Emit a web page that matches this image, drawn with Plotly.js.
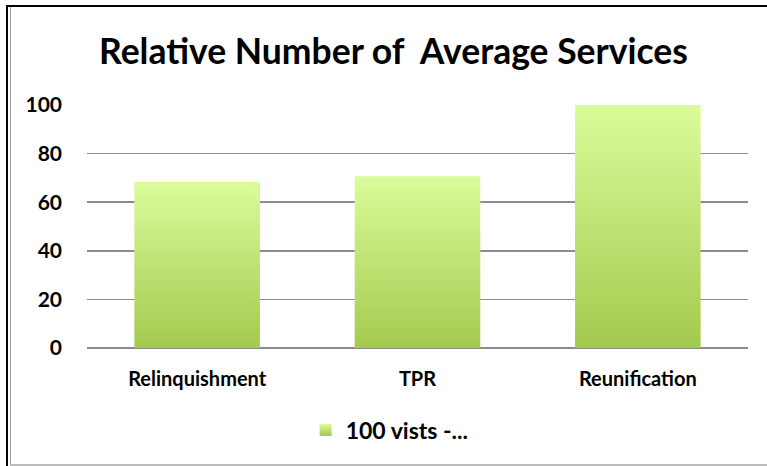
<!DOCTYPE html>
<html><head><meta charset="utf-8">
<script src="https://cdn.plot.ly/plotly-3.0.1.min.js"></script>
<style>
html,body{margin:0;padding:0;background:#fff;}
#wrap{position:relative;width:767px;height:466px;overflow:hidden;}
#chart{position:absolute;left:0;top:0;width:767px;height:466px;}
.b{position:absolute;}
</style></head>
<body><div id="wrap"><div id="chart"></div>
<div class="b" style="left:6px;top:5px;width:2px;height:461px;background:#000"></div>
<div class="b" style="left:6px;top:5px;width:761px;height:2px;background:#000"></div>
<div class="b" style="left:10px;top:7px;width:1px;height:459px;background:#999"></div>
<div class="b" style="left:10px;top:464px;width:757px;height:2px;background:#bbb"></div>
</div>
<script>
const categories = ["Relinquishment", "TPR", "Reunification"];
const values = [68.3, 70.7, 100];
const seriesName = "100 vists -...";
const yTicks = [0, 20, 40, 60, 80, 100];

const FONT = "Lato, 'Open Sans', sans-serif";
const trace = {
  type: "bar", x: categories, y: values, name: seriesName,
  marker: {color: "#c2e37a", line: {width: 0}},
  showlegend: true, hoverinfo: "none"
};
const layout = {
  width: 767, height: 466,
  margin: {l: 87, r: 19, t: 104.5, b: 118.3, pad: 0},
  paper_bgcolor: "rgba(0,0,0,0)", plot_bgcolor: "rgba(0,0,0,0)",
  bargap: 0.43,
  title: {text: "<b>Relative Number of  Average Services</b>", x: 0.513, xanchor: "center",
          y: 1 - 52/466, yanchor: "middle", yref: "container",
          font: {family: FONT, size: 35.5, color: "#000"}},
  xaxis: {type: "category", showgrid: false, zeroline: false, showline: false, ticks: "",
          tickfont: {family: FONT, size: 20, color: "#000", weight: "bold"}, ticklabelstandoff: 17},
  yaxis: {range: [0, 100], tickvals: yTicks, ticktext: yTicks.map(String), showgrid: true,
          gridcolor: "#8c8c8c", gridwidth: 1.6, zeroline: true, zerolinecolor: "#8c8c8c", zerolinewidth: 1.6,
          showline: false, ticks: "", ticklabelstandoff: 24,
          tickfont: {family: FONT, size: 21, color: "#000", weight: "bold"}},
  showlegend: true,
  legend: {orientation: "h", xref: "container", yref: "container", x: 0.508, xanchor: "center",
           y: 1 - 430/466, yanchor: "middle",
           font: {family: FONT, size: 23, color: "#000", weight: "bold"}}
};
Plotly.newPlot("chart", [trace], layout, {staticPlot: true, displayModeBar: false}).then(function(gd){
  const svg = gd.querySelector("svg.main-svg");
  const ns = "http://www.w3.org/2000/svg";
  let defs = svg.querySelector("defs");
  const g = document.createElementNS(ns, "linearGradient");
  g.setAttribute("id", "barGrad"); g.setAttribute("x1","0"); g.setAttribute("y1","0");
  g.setAttribute("x2","0"); g.setAttribute("y2","1");
  [["0","#dafc9a"],["1","#a3ca4e"]].forEach(function(s){
    const st = document.createElementNS(ns, "stop");
    st.setAttribute("offset", s[0]); st.setAttribute("stop-color", s[1]); g.appendChild(st);
  });
  defs.appendChild(g);
  gd.querySelectorAll(".bars .point path, .legendpoints path").forEach(function(p){
    p.style.fill = "url(#barGrad)";
  });
});
</script></body></html>
